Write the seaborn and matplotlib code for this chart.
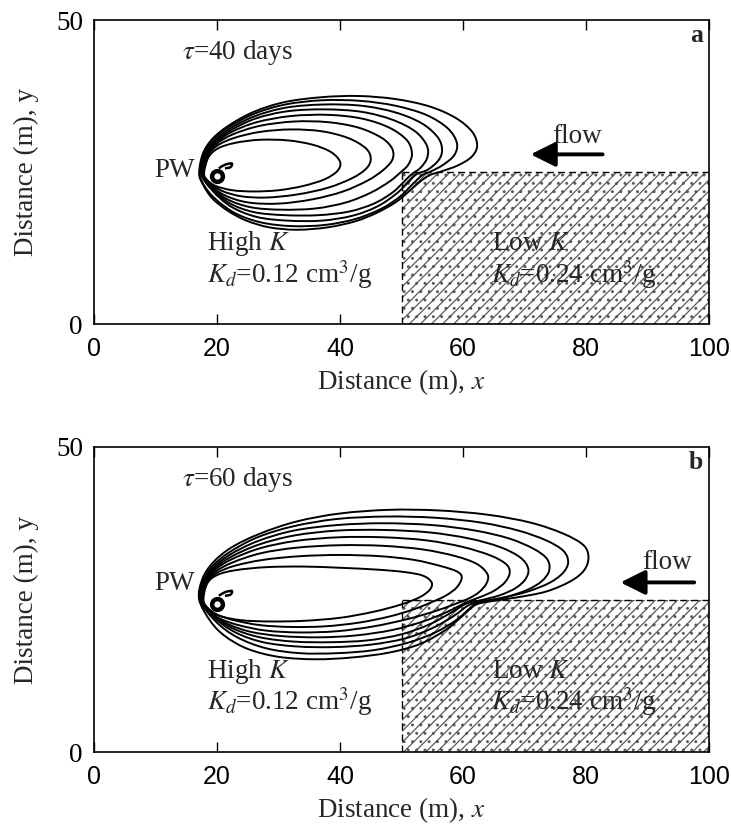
import numpy as np
import matplotlib
matplotlib.use("Agg")
import matplotlib.pyplot as plt
import seaborn as sns
from matplotlib.path import Path
from matplotlib.patches import PathPatch, Rectangle

# ---------------------------------------------------------------- data
x_ticks = [0, 20, 40, 60, 80, 100]
y_ticks = [0, 50]
tau_days = [40, 60]
kd_high = 0.12
kd_low = 0.24

# pumping well and the low-K block (x from 50 to 100, y from 0 to 25)
well_x = [20.0]
well_y = [24.3]
lowk_x = [50, 100]
lowk_y = [0, 25]

# small curl beside the well
hook_x = [20.3, 21.3, 22.4, 22.2, 21.3]
hook_y = [25.6, 26.2, 26.4, 25.8, 25.6]

# concentration contours, tau = 40 days (closed loops, inner to outer)
panel_a_x = [
    [17.9, 18.6, 20.2, 23.0, 27.0, 31.5, 35.5, 38.5, 40.0, 39.6, 37.5, 34.0, 30.0, 26.0, 22.5, 19.8, 18.4],
    [17.8, 18.4, 20.0, 22.8, 27.0, 32.0, 37.0, 41.3, 44.2, 45.0, 44.3, 42.0, 38.0, 33.0, 28.0, 24.0, 20.8, 18.6],
    [17.7, 18.3, 19.9, 22.6, 27.0, 32.5, 38.0, 43.0, 46.8, 48.5, 48.5, 47.0, 44.5, 40.5, 35.5, 30.0, 25.0, 21.2, 18.7],
    [17.6, 18.2, 19.8, 22.4, 26.5, 32.0, 38.0, 43.5, 48.0, 50.9, 51.7, 51.1, 49.8, 48.0, 45.0, 41.0, 36.0, 30.5, 25.5, 21.5, 18.8],
    [17.5, 18.1, 19.7, 22.3, 26.3, 31.5, 37.5, 43.5, 48.5, 52.2, 54.1, 54.2, 53.1, 51.6, 50.4, 48.5, 45.5, 41.5, 36.5, 31.0, 26.0, 22.0, 19.0],
    [17.4, 18.0, 19.6, 22.2, 26.2, 31.3, 37.3, 43.5, 49.0, 53.3, 55.9, 56.6, 56.0, 54.3, 52.4, 51.0, 49.0, 46.0, 42.0, 37.0, 31.5, 26.5, 22.3, 19.2],
    [17.2, 17.8, 19.4, 22.1, 26.1, 31.1, 37.1, 43.3, 49.0, 54.0, 57.5, 59.0, 58.6, 56.8, 54.8, 53.4, 51.9, 49.8, 46.8, 42.6, 37.6, 32.2, 27.2, 23.0, 19.7, 17.9],
    [17.1, 17.7, 19.3, 22.0, 26.0, 31.0, 37.0, 43.0, 49.0, 54.5, 58.8, 61.5, 62.3, 61.4, 59.2, 56.5, 54.6, 53.0, 51.2, 49.0, 46.0, 42.5, 38.0, 33.0, 28.5, 24.8, 21.8, 19.2, 17.7],
]
panel_a_y = [
    [24.8, 27.4, 28.9, 29.8, 30.3, 30.2, 29.5, 28.3, 26.7, 25.2, 23.8, 22.7, 22.0, 21.8, 22.0, 22.7, 23.7],
    [24.8, 27.5, 29.3, 30.6, 31.6, 32.0, 31.7, 30.6, 28.9, 27.2, 25.6, 24.0, 22.4, 21.3, 20.8, 21.0, 21.9, 23.4],
    [24.8, 27.6, 29.6, 31.2, 32.6, 33.3, 33.2, 32.3, 30.6, 28.8, 27.0, 25.3, 23.6, 21.8, 20.5, 19.8, 20.0, 21.2, 23.1],
    [24.8, 27.7, 29.8, 31.6, 33.2, 34.2, 34.4, 33.8, 32.3, 30.2, 28.0, 26.2, 24.9, 23.4, 21.6, 20.0, 19.0, 18.8, 19.2, 20.6, 22.8],
    [24.8, 27.8, 30.0, 31.9, 33.8, 35.0, 35.3, 34.9, 33.6, 31.7, 29.4, 27.4, 25.7, 24.6, 23.4, 21.6, 19.8, 18.5, 17.9, 17.9, 18.4, 19.9, 22.4],
    [24.8, 27.9, 30.2, 32.2, 34.2, 35.6, 36.1, 35.9, 34.8, 33.0, 30.7, 28.6, 26.9, 25.4, 24.6, 23.2, 21.3, 19.3, 17.8, 17.0, 17.0, 17.6, 19.3, 22.0],
    [24.8, 27.9, 30.4, 32.5, 34.6, 36.1, 36.8, 36.7, 35.9, 34.4, 32.2, 29.8, 27.8, 26.2, 25.1, 24.5, 23.1, 21.0, 19.0, 17.3, 16.3, 16.1, 16.7, 18.2, 20.6, 22.8],
    [24.8, 28.0, 30.5, 32.7, 34.9, 36.5, 37.3, 37.5, 37.0, 35.8, 33.9, 31.6, 29.3, 27.5, 26.1, 25.1, 24.5, 23.4, 21.8, 20.0, 18.3, 16.9, 15.9, 15.5, 15.9, 17.0, 18.6, 20.7, 23.0],
]

# concentration contours, tau = 60 days
panel_b_x = [
    [17.8, 18.4, 20.0, 23.0, 28.0, 34.0, 40.0, 46.0, 50.5, 53.5, 54.9, 54.6, 53.0, 50.0, 45.5, 40.0, 34.0, 28.5, 24.0, 20.5, 18.5],
    [17.7, 18.3, 19.9, 22.8, 27.5, 33.5, 40.0, 46.5, 52.0, 56.3, 59.0, 59.8, 59.0, 57.3, 55.0, 52.0, 48.0, 43.0, 37.5, 32.0, 27.0, 22.8, 19.8, 18.3],
    [17.6, 18.2, 19.8, 22.6, 27.2, 33.0, 40.0, 47.0, 53.5, 58.8, 62.3, 64.0, 63.8, 62.6, 61.0, 58.8, 55.5, 51.0, 45.5, 39.5, 33.5, 28.0, 23.5, 20.2, 18.4],
    [17.5, 18.1, 19.7, 22.4, 27.0, 32.8, 39.8, 47.0, 54.0, 60.0, 64.5, 67.0, 67.6, 66.8, 65.0, 62.8, 60.5, 57.5, 53.5, 48.5, 42.5, 36.5, 30.5, 25.5, 21.5, 18.9],
    [17.4, 18.0, 19.6, 22.3, 26.8, 32.6, 39.6, 47.0, 54.5, 61.0, 66.0, 69.3, 70.6, 70.2, 68.6, 66.0, 63.0, 60.5, 58.0, 54.5, 50.0, 44.5, 38.5, 32.5, 27.0, 22.5, 19.3],
    [17.3, 17.9, 19.5, 22.2, 26.7, 32.5, 39.5, 47.0, 55.0, 62.0, 67.5, 71.5, 73.7, 74.0, 72.8, 70.5, 67.0, 63.5, 61.0, 58.5, 55.0, 50.5, 45.0, 39.0, 33.0, 27.5, 23.0, 19.6],
    [17.2, 17.8, 19.4, 22.1, 26.6, 32.4, 39.5, 47.5, 55.5, 63.0, 69.0, 73.5, 76.3, 77.1, 76.2, 74.0, 70.5, 66.5, 63.0, 61.3, 59.0, 55.5, 51.0, 45.5, 39.5, 33.5, 28.0, 23.3, 19.8],
    [17.1, 17.6, 19.3, 22.3, 27.0, 33.0, 40.0, 48.0, 56.0, 64.0, 71.0, 76.3, 79.6, 80.4, 79.7, 77.5, 73.5, 68.5, 64.5, 62.0, 59.8, 57.0, 53.0, 48.0, 42.0, 36.0, 30.0, 25.0, 21.3, 18.9],
]
panel_b_y = [
    [25.0, 27.6, 29.0, 29.8, 30.3, 30.4, 30.2, 29.9, 29.5, 28.9, 27.8, 26.6, 25.4, 24.2, 23.0, 22.0, 21.5, 21.4, 21.6, 22.3, 23.6],
    [25.0, 27.7, 29.3, 30.5, 31.5, 32.1, 32.3, 32.1, 31.5, 30.5, 29.6, 28.6, 27.0, 25.7, 24.6, 23.4, 22.2, 21.2, 20.6, 20.5, 20.8, 21.6, 22.6, 23.8],
    [25.0, 27.8, 29.6, 31.1, 32.6, 33.5, 33.9, 33.8, 33.2, 32.1, 30.8, 29.1, 27.6, 26.2, 25.2, 24.3, 23.1, 21.8, 20.6, 19.8, 19.6, 19.9, 20.8, 22.0, 23.6],
    [25.0, 27.9, 29.9, 31.6, 33.4, 34.6, 35.2, 35.2, 34.7, 33.6, 32.2, 30.8, 29.4, 27.8, 26.4, 25.4, 24.5, 23.0, 21.4, 20.0, 19.1, 18.8, 19.0, 19.7, 21.1, 23.0],
    [25.0, 28.0, 30.1, 32.0, 34.0, 35.5, 36.3, 36.4, 36.0, 35.0, 33.6, 31.9, 30.1, 28.4, 26.9, 25.7, 24.9, 24.3, 22.8, 20.9, 19.3, 18.3, 18.0, 18.1, 18.8, 20.3, 22.5],
    [25.0, 28.1, 30.3, 32.4, 34.6, 36.3, 37.2, 37.5, 37.2, 36.3, 35.0, 33.3, 31.6, 29.7, 28.0, 26.6, 25.4, 24.7, 24.1, 22.3, 20.3, 18.6, 17.6, 17.2, 17.3, 18.0, 19.6, 22.0],
    [25.0, 28.2, 30.6, 32.8, 35.2, 37.0, 38.2, 38.6, 38.4, 37.6, 36.3, 34.7, 33.0, 31.1, 29.3, 27.7, 26.3, 25.3, 24.6, 23.7, 21.7, 19.6, 17.9, 16.7, 16.2, 16.2, 17.0, 18.8, 21.4],
    [25.0, 28.3, 31.0, 33.5, 35.8, 37.8, 39.1, 39.7, 39.6, 38.9, 37.6, 35.8, 33.9, 31.9, 29.8, 28.0, 26.3, 25.3, 24.7, 24.1, 22.2, 19.9, 17.7, 16.3, 15.5, 15.2, 15.6, 16.9, 19.0, 21.5],
]

# ---------------------------------------------------------------- style
sns.set_theme(style="ticks")
plt.rcParams.update({
    "font.family": ["Liberation Serif", "DejaVu Serif"],
    "mathtext.fontset": "stix",
    "hatch.linewidth": 0.9,
    "axes.edgecolor": "black",
    "axes.linewidth": 1.2,
    "xtick.color": "black",
    "ytick.color": "black",
})
SERIF = ["Liberation Serif", "DejaVu Serif"]
SANS = ["Liberation Sans", "DejaVu Sans"]
FS = 19.5


def smooth_loop(xs, ys):
    """Closed Catmull-Rom curve through the given points as a Bezier path."""
    pts = np.column_stack([xs, ys]).astype(float)
    n = len(pts)
    verts = [pts[0]]
    codes = [Path.MOVETO]
    for i in range(n):
        p0, p1, p2, p3 = pts[i - 1], pts[i], pts[(i + 1) % n], pts[(i + 2) % n]
        verts += [p1 + (p2 - p0) / 6.0, p2 - (p3 - p1) / 6.0, p2]
        codes += [Path.CURVE4] * 3
    return Path(verts, codes)


def smooth_open(xs, ys):
    pts = np.column_stack([xs, ys]).astype(float)
    n = len(pts)
    verts = [pts[0]]
    codes = [Path.MOVETO]
    for i in range(n - 1):
        p0 = pts[max(i - 1, 0)]
        p1, p2 = pts[i], pts[i + 1]
        p3 = pts[min(i + 2, n - 1)]
        verts += [p1 + (p2 - p0) / 6.0, p2 - (p3 - p1) / 6.0, p2]
        codes += [Path.CURVE4] * 3
    return Path(verts, codes)


def draw_panel(ax, cx, cy, letter, tau, flow_xy, arrow_x, arrow_y, pw_y):
    ax.set_xlim(0, 100)
    ax.set_ylim(0, 50)

    # low-K block: speckled hatch with dashed boundary
    ax.add_patch(Rectangle((lowk_x[0], lowk_y[0]), lowk_x[1] - lowk_x[0],
                           lowk_y[1] - lowk_y[0], facecolor="white",
                           edgecolor="#5a5a5a", hatch="///..", lw=0, zorder=1))
    ax.plot([lowk_x[0], lowk_x[0]], lowk_y, color="black", lw=1.0,
            ls=(0, (5, 3)), zorder=2)
    ax.plot(lowk_x, [lowk_y[1], lowk_y[1]], color="black", lw=1.0,
            ls=(0, (5, 3)), zorder=2)

    # contours
    for xs, ys in zip(cx, cy):
        ax.add_patch(PathPatch(smooth_loop(xs, ys), facecolor="none",
                               edgecolor="black", lw=1.4, zorder=3))

    # pumping well
    ax.add_patch(PathPatch(smooth_open(hook_x, hook_y), facecolor="none",
                           edgecolor="black", lw=1.8, zorder=4))
    sns.scatterplot(x=well_x, y=well_y, ax=ax, s=60, marker="o",
                    color="white", edgecolor="black", linewidth=3.2,
                    zorder=5, legend=False)

    # labels inside the panel
    ax.text(99, 47.5, letter, ha="right", va="center", fontsize=FS - 1,
            fontweight="bold", family=SERIF)
    ax.text(14.3, 44.6, rf"$\tau$={tau} days", ha="left", va="center",
            fontsize=FS, family=SERIF)
    ax.text(16.4, pw_y, "PW", ha="right", va="center", fontsize=FS,
            family=SERIF)
    ax.text(flow_xy[0], flow_xy[1], "flow", ha="center", va="center",
            fontsize=FS, family=SERIF)
    ax.annotate("", xy=(arrow_x[1], arrow_y), xytext=(arrow_x[0], arrow_y),
                arrowprops=dict(arrowstyle="-|>,head_length=0.6,head_width=0.3",
                                color="black", lw=2.8, mutation_scale=25,
                                shrinkA=0, shrinkB=0))
    ax.text(18.3, 13.2, "High $K$", ha="left", va="center", fontsize=FS,
            family=SERIF)
    ax.text(18.3, 8.2, rf"$K_d$={kd_high:.2f} cm$^3$/g", ha="left",
            va="center", fontsize=FS, family=SERIF)
    ax.text(64.7, 13.2, "Low $K$", ha="left", va="center", fontsize=FS,
            family=SERIF, zorder=6)
    ax.text(64.5, 8.2, rf"$K_d$={kd_low:.2f} cm$^3$/g", ha="left",
            va="center", fontsize=FS, family=SERIF, zorder=6)

    # axes
    ax.set_xticks(x_ticks)
    ax.set_yticks(y_ticks)
    ax.set_xticklabels([str(v) for v in x_ticks], family=SANS, fontsize=18)
    ax.set_yticklabels([str(v) for v in y_ticks], family=SERIF, fontsize=FS)
    ax.tick_params(axis="x", direction="in", top=True, bottom=True,
                   length=7, width=1.0, pad=9)
    ax.tick_params(axis="y", direction="in", left=True, right=False,
                   length=0, pad=8)
    ax.set_xlabel("Distance (m), $x$", fontsize=FS, family=SERIF, labelpad=5)
    ax.set_ylabel("Distance (m), y", fontsize=FS, family=SERIF, labelpad=12)
    for s in ax.spines.values():
        s.set_visible(True)
        s.set_color("black")
        s.set_linewidth(1.2)
    ax.grid(False)


fig = plt.figure(figsize=(7.31, 8.34), dpi=100)
fig.patch.set_facecolor("white")
ax_a = fig.add_axes([94 / 731, (834 - 324) / 834, 615 / 731, 304 / 834])
ax_b = fig.add_axes([94 / 731, (834 - 752) / 834, 615 / 731, 305 / 834])

draw_panel(ax_a, panel_a_x, panel_a_y, "a", tau_days[0],
           flow_xy=(78.6, 30.9), arrow_x=(82.7, 71.0), arrow_y=27.9, pw_y=25.3)
draw_panel(ax_b, panel_b_x, panel_b_y, "b", tau_days[1],
           flow_xy=(93.2, 31.1), arrow_x=(97.6, 85.6), arrow_y=27.8, pw_y=27.6)

fig.savefig("out.png", dpi=100, facecolor="white")
